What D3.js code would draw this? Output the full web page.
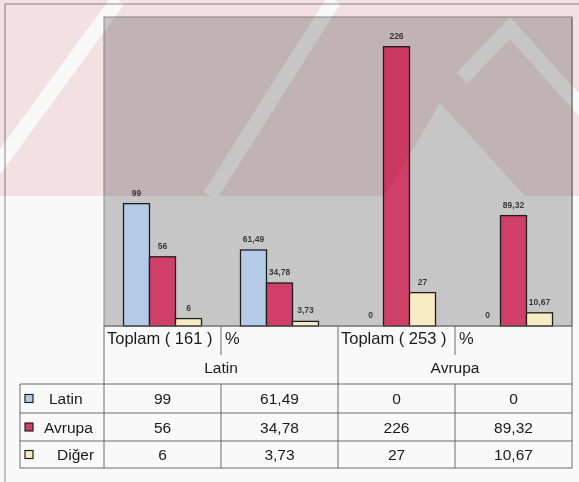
<!DOCTYPE html>
<html>
<head>
<meta charset="utf-8">
<script src="https://cdn.jsdelivr.net/npm/d3@7"></script>
<style>
  body { margin: 0; background: #f9f9f9; }
  svg { display: block; font-family: "Liberation Sans", Arial, sans-serif; }
</style>
</head>
<body>
<div id="chart"></div>
<script>
// data
var categories = ['Toplam ( 161 )', '%', 'Toplam ( 253 )', '%'];
var groups = ['Latin', 'Avrupa'];
var seriesNames = ['Latin', 'Avrupa', 'Diğer'];
var latinValues = [99, 61.49, 0, 0];
var avrupaValues = [56, 34.78, 226, 89.32];
var digerValues = [6, 3.73, 27, 10.67];
var seriesColors = ['#b3cbe6', '#cf3f68', '#f7ecc4'];

var allValues = [latinValues, avrupaValues, digerValues];

var width = 579, height = 482;
var plot = {left: 104, right: 572, top: 17, bottom: 326};
var table = {left: 20, header2: 384, rows: [384, 413, 441, 468]};

var svg = d3.select('#chart').append('svg')
    .attr('width', width)
    .attr('height', height);

// outer frame (scanned page)
svg.append('rect').attr('x', 0).attr('y', 0).attr('width', width).attr('height', height).attr('fill', '#f9f9f9');
svg.append('path').attr('d', 'M5,' + height + 'V4H' + width)
    .attr('fill', 'none').attr('stroke', '#8a8a8a').attr('stroke-width', 1);

// plot background
svg.append('rect')
    .attr('x', plot.left).attr('y', plot.top)
    .attr('width', plot.right - plot.left).attr('height', plot.bottom - plot.top)
    .attr('fill', '#c6c6c6').attr('stroke', '#8c8c8c').attr('stroke-width', 1);

var x = d3.scaleBand()
    .domain(d3.range(categories.length))
    .range([plot.left, plot.right]);

var xs = d3.scaleBand()
    .domain(d3.range(seriesNames.length))
    .range([0, x.bandwidth()])
    .paddingOuter(0.75);

var y = d3.scaleLinear()
    .domain([0, 250])
    .range([plot.bottom, plot.top]);

var fmt = function(v){ return String(v).replace('.', ','); };

var bars = [];
allValues.forEach(function(vals, s){
    vals.forEach(function(v, c){
        bars.push({s: s, c: c, v: v});
    });
});

var g = svg.append('g');

g.selectAll('rect.bar')
    .data(bars.filter(function(d){ return d.v > 0; }))
    .enter().append('rect')
    .attr('class', 'bar')
    .attr('x', function(d){ return x(d.c) + xs(d.s); })
    .attr('y', function(d){ return y(d.v); })
    .attr('width', xs.bandwidth())
    .attr('height', function(d){ return y(0) - y(d.v); })
    .attr('fill', function(d){ return seriesColors[d.s]; })
    .attr('stroke', '#1e1e1e')
    .attr('stroke-width', 1.3);

g.selectAll('text.lbl')
    .data(bars)
    .enter().append('text')
    .attr('class', 'lbl')
    .attr('x', function(d){ return x(d.c) + xs(d.s) + xs.bandwidth() / 2; })
    .attr('y', function(d){ return y(d.v) - 8; })
    .attr('text-anchor', 'middle')
    .attr('font-size', 8.5)
    .attr('font-weight', 'bold')
    .attr('fill', '#3a3a3a')
    .text(function(d){ return fmt(d.v); });

// watermark (pink diagonal logo from the scan)
var defs = svg.append('defs');
var mask = defs.append('mask').attr('id', 'wm');
mask.append('rect').attr('x', 0).attr('y', 0).attr('width', width).attr('height', 196).attr('fill', 'white');
mask.append('line').attr('x1', -25).attr('y1', 196).attr('x2', 118).attr('y2', 0)
    .attr('stroke', 'black').attr('stroke-width', 15);
mask.append('line').attr('x1', 210).attr('y1', 196).attr('x2', 334).attr('y2', 0)
    .attr('stroke', 'black').attr('stroke-width', 15);
mask.append('polyline').attr('points', '462,78 510,28 600,128')
    .attr('fill', 'none').attr('stroke', 'black').attr('stroke-width', 15);
mask.append('polygon').attr('points', '440,103 385,196 525,196').attr('fill', 'black');

svg.append('rect')
    .attr('x', 0).attr('y', 0).attr('width', width).attr('height', 196)
    .attr('fill', '#f9e6e9')
    .attr('mask', 'url(#wm)')
    .style('mix-blend-mode', 'multiply');

// table grid
var lineColor = '#6a6a6a';
var grid = svg.append('g').attr('stroke', lineColor).attr('stroke-width', 1);
var hline = function(yy, x1, x2){ grid.append('line').attr('x1', x1).attr('x2', x2).attr('y1', yy).attr('y2', yy); };
var vline = function(xx, y1, y2){ grid.append('line').attr('x1', xx).attr('x2', xx).attr('y1', y1).attr('y2', y2); };

hline(plot.bottom, plot.left, plot.right);
table.rows.forEach(function(r){ hline(r, table.left, plot.right); });
vline(table.left, table.header2, table.rows[3]);
vline(plot.left, plot.bottom, table.rows[3]);
vline(plot.right, plot.top, table.rows[3]);
categories.forEach(function(c, i){
    if (i === 0) return;
    if (i % 2 === 0) vline(x(i), plot.bottom, table.rows[3]);
    else {
        vline(x(i), plot.bottom, 355);
        vline(x(i), table.header2, table.rows[3]);
    }
});

// category labels
svg.selectAll('text.cat')
    .data(categories)
    .enter().append('text')
    .attr('class', 'cat')
    .attr('x', function(d, i){ return x(i) + (i % 2 ? 4 : 3); })
    .attr('y', 344)
    .attr('font-size', 16.5)
    .attr('fill', '#1a1a1a')
    .text(function(d){ return d; });

svg.selectAll('text.grp')
    .data(groups)
    .enter().append('text')
    .attr('class', 'grp')
    .attr('x', function(d, i){ return (x(i * 2) + x(i * 2 + 1) + x.bandwidth()) / 2; })
    .attr('y', 373)
    .attr('text-anchor', 'middle')
    .attr('font-size', 15.5)
    .attr('fill', '#1a1a1a')
    .text(function(d){ return d; });

// legend rows with values
var legendTextX = [49, 44, 57];
seriesNames.forEach(function(name, s){
    var top = table.rows[s], bot = table.rows[s + 1], mid = (top + bot) / 2;
    svg.append('rect')
        .attr('x', 25).attr('y', mid - 4)
        .attr('width', 8).attr('height', 8)
        .attr('fill', seriesColors[s])
        .attr('stroke', '#1e1e1e').attr('stroke-width', 1.2);
    svg.append('text')
        .attr('x', legendTextX[s]).attr('y', mid + 5.5)
        .attr('font-size', 15.5).attr('fill', '#1a1a1a')
        .text(name);
    allValues[s].forEach(function(v, c){
        svg.append('text')
            .attr('x', x(c) + x.bandwidth() / 2).attr('y', mid + 5.5)
            .attr('text-anchor', 'middle')
            .attr('font-size', 15.5).attr('fill', '#1a1a1a')
            .text(fmt(v));
    });
});
</script>
</body>
</html>
